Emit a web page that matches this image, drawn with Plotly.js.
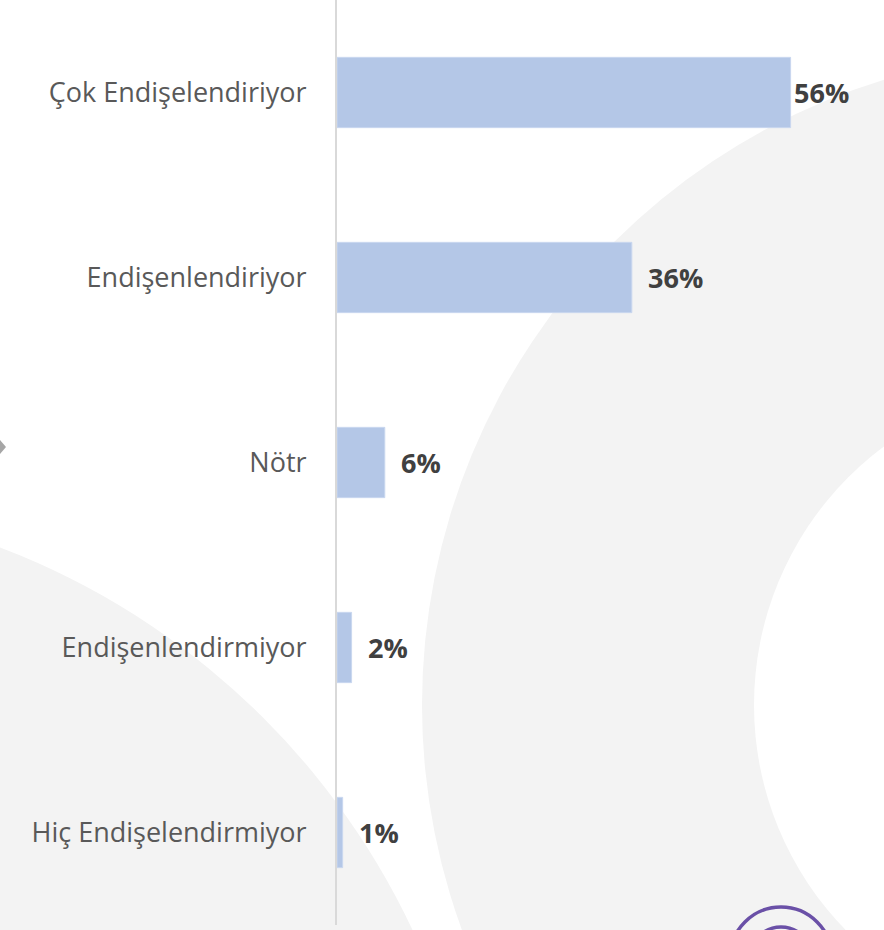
<!DOCTYPE html>
<html>
<head>
<meta charset="utf-8">
<script src="https://cdn.plot.ly/plotly-3.0.1.min.js"></script>
<style>html,body{margin:0;padding:0;background:#fff;}#chart{width:884px;height:930px;}</style>
</head>
<body>
<div id="chart"></div>
<script>
// Data
const categories = ["Çok Endişelendiriyor", "Endişenlendiriyor", "Nötr", "Endişenlendirmiyor", "Hiç Endişelendirmiyor"];
const values = [56.0, 36.4, 5.9, 1.8, 0.7];
const valueLabels = ["56%", "36%", "6%", "2%", "1%"];

// Layout geometry (pixels)
const W = 884, H = 930;
const ML = 337, MR = 0, MT = 0, MB = 5;
const PW = W - ML - MR, PH = H - MT - MB;
const px2x = p => (p - ML) / PW;
const px2y = p => (H - MB - p) / PH;

function circ(cx, cy, r, fill, line, lw) {
  return {
    type: 'circle', xref: 'paper', yref: 'paper', layer: 'below',
    x0: px2x(cx - r), x1: px2x(cx + r), y0: px2y(cy + r), y1: px2y(cy - r),
    fillcolor: fill, line: {color: line || 'rgba(0,0,0,0)', width: lw || 0}
  };
}
const decor = [
  circ(-268, 1250, 752, '#F3F3F3'),
  circ(1076, 705, 654, '#F3F3F3'),
  circ(1076, 705, 322, '#FFFFFF'),
  circ(781, 958, 51, 'rgba(0,0,0,0)', '#6A50A7', 3.5),
  circ(781, 958, 31, 'rgba(0,0,0,0)', '#6A50A7', 3.5),
  {
    type: 'path', xref: 'paper', yref: 'paper', layer: 'below',
    path: `M ${px2x(-7)},${px2y(447)} L ${px2x(0)},${px2y(440)} L ${px2x(6)},${px2y(447)} L ${px2x(0)},${px2y(454)} Z`,
    fillcolor: '#A6A6A6', line: {width: 0}
  }
];

const maxV = Math.max(...values);
const annotations = values.map((v, i) => ({
  x: v, y: categories[i], xref: 'x', yref: 'y',
  text: '<b>' + valueLabels[i] + '</b>', showarrow: false,
  xanchor: 'left', yanchor: 'middle', xshift: v === maxV ? 1 : 14,
  font: {family: 'Open Sans, sans-serif', size: 27, color: '#404040'}
}));

const trace = {
  type: 'bar', orientation: 'h',
  x: values, y: categories,
  marker: {color: '#B4C7E7', line: {color: '#C9D7EF', width: 1}},
  hoverinfo: 'none'
};

const layout = {
  width: W, height: H,
  margin: {l: ML, r: MR, t: MT, b: MB, pad: 0},
  paper_bgcolor: '#FFFFFF', plot_bgcolor: 'rgba(0,0,0,0)',
  showlegend: false,
  bargap: 0.62,
  xaxis: {range: [0, PW / 8.1], visible: false, fixedrange: true},
  yaxis: {
    type: 'category', range: [4.5, -0.5],
    showline: true, linecolor: '#D9D9D9', linewidth: 2,
    showgrid: false, zeroline: false, ticks: '',
    ticklabelstandoff: 23,
    tickfont: {family: 'Open Sans, sans-serif', size: 27, color: '#595959'},
    fixedrange: true
  },
  shapes: decor,
  annotations: annotations
};

Plotly.newPlot('chart', [trace], layout, {displayModeBar: false, staticPlot: true});
</script>
</body>
</html>
